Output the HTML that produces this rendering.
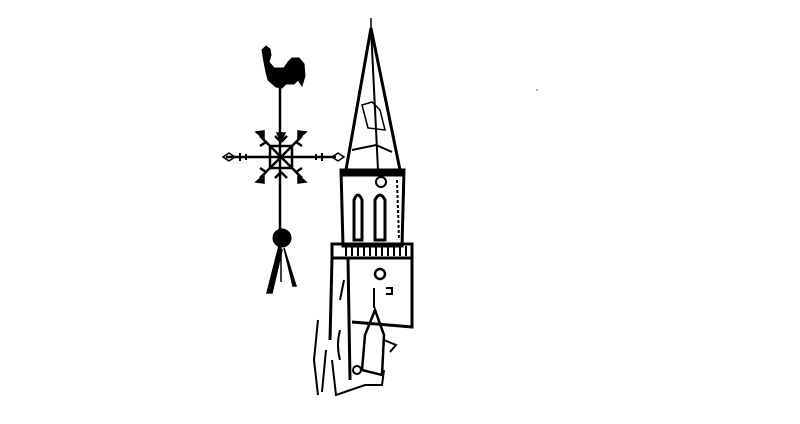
<!DOCTYPE html>
<html><head><meta charset="utf-8"><style>html,body{margin:0;padding:0;background:#fff}svg{display:block}</style></head>
<body>
<svg width="800" height="424" viewBox="0 0 800 424" xmlns="http://www.w3.org/2000/svg">
<rect width="800" height="424" fill="#fff"/>
<g fill="#000" stroke="#000">
<!-- rooster -->
<path d="M262 50 L266 46 L270 49 L271 55 L269 62 L274 68 L284 68 L288 62 L292 58 L299 58 L304 64 L305 76 L302 86 L298 80 L294 84 L286 84 L282 88 L276 87 L268 80 L266 72 L264 62 L263 56 Z" stroke-width="1"/>
<!-- pole -->
<line x1="280" y1="84" x2="280" y2="235" stroke-width="2.5"/>
<!-- cross arms -->
<line x1="226" y1="157" x2="336" y2="157" stroke-width="2.5"/>
<path d="M223 157 L229 153 L235 157 L229 161 Z M332 157 L338 153 L344 157 L338 161 Z" fill="none" stroke-width="1.5"/>
<path d="M240 153 v8 M246 154 v6 M316 154 v6 M322 153 v8" stroke-width="2"/>
<!-- snowflake -->
<g stroke-width="2.5" fill="none">
<line x1="260" y1="136" x2="302" y2="178"/>
<line x1="302" y1="136" x2="260" y2="178"/>
<path d="M270 146 h22 v22 h-22 Z"/>
<path d="M266 142 l-6 4 M296 142 l6 4 M266 172 l-6 -4 M296 172 l6 -4 M281 142 l-6 -6 M281 142 l6 -6 M281 172 l-6 6 M281 172 l6 6"/>
</g>
<path d="M256 132 L264 131 L264 139 Z M306 132 L298 131 L298 139 Z M256 182 L264 183 L264 175 Z M306 182 L298 183 L298 175 Z M277 133 L285 133 L281 141 Z" stroke-width="1.5"/>
<!-- ball and legs -->
<circle cx="282" cy="238" r="9"/>
<path d="M279 246 L267 293 L272 293 L282 250 Z M284 248 L296 286 L293 286 Z M281 248 L281 282" stroke-width="1.5"/>
<!-- spire -->
<path d="M371 28 L346 170 L400 170 Z" fill="none" stroke-width="3"/>
<line x1="371" y1="28" x2="378" y2="170" stroke-width="2"/>
<line x1="371" y1="18" x2="371" y2="30" stroke-width="1.5"/>
<path d="M362 105 L372 102 L380 110 L385 130 L368 128 Z" fill="none" stroke-width="1.5"/>
<path d="M352 150 L376 145 L392 152" fill="none" stroke-width="2"/>
<!-- tower body -->
<path d="M341 170 L404 170 L402 246 L343 246 Z" fill="none" stroke-width="3"/>
<rect x="341" y="170" width="62" height="6"/>
<path d="M354 200 Q358 190 362 200 L362 240 L354 240 Z" fill="none" stroke-width="3"/>
<path d="M375 200 Q380 190 385 200 L385 240 L375 240 Z" fill="none" stroke-width="3"/>
<circle cx="381" cy="182" r="5" fill="none" stroke-width="2"/>
<line x1="397" y1="180" x2="399" y2="240" stroke-width="2" stroke-dasharray="3 2"/>
<!-- balcony -->
<rect x="332" y="244" width="80" height="14" fill="none" stroke-width="3"/>
<path d="M346 246 v10 M352 246 v10 M358 246 v10 M364 246 v10 M370 246 v10 M376 246 v10 M382 246 v10 M388 246 v10 M394 246 v10 M400 246 v10 M406 246 v10" stroke-width="2"/>
<!-- lower body -->
<path d="M332 258 L330 340 M412 258 L412 327 L352 322" fill="none" stroke-width="3"/>
<line x1="348" y1="258" x2="350" y2="380" stroke-width="3"/>
<circle cx="380" cy="274" r="5" fill="none" stroke-width="2.5"/>
<path d="M374 288 v20 M386 288 h6 v6 h-6" fill="none" stroke-width="2"/>
<!-- small gable -->
<path d="M375 310 L365 335 L362 370 L382 375 L384 335 Z" fill="none" stroke-width="2.5"/>
<path d="M340 330 Q336 345 340 360 M344 280 L340 300" fill="none" stroke-width="2"/>
<path d="M318 320 L314 360 L318 395 M326 350 L322 392 M332 360 L336 395 L365 385 L382 385 L384 370" fill="none" stroke-width="2"/>
<path d="M384 340 L396 345 L390 352" fill="none" stroke-width="2"/>
<circle cx="357" cy="370" r="4" fill="none" stroke-width="2"/>
</g>
<circle cx="537" cy="90" r="0.6" fill="#000"/>
</svg>
</body></html>
